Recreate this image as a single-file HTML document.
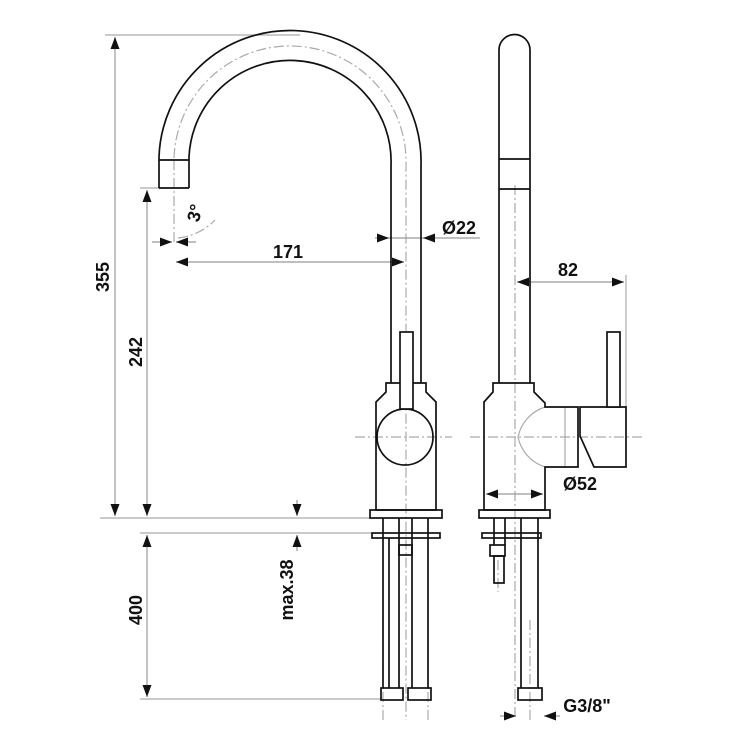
<!DOCTYPE html>
<html><head><style>body{margin:0;background:#fff}svg{display:block}text{font-family:"Liberation Sans",sans-serif;font-weight:bold;fill:#111}</style></head><body>
<svg width="750" height="750" viewBox="0 0 750 750" xmlns="http://www.w3.org/2000/svg">
<defs>
<marker id="a" viewBox="0 0 12 9" refX="12" refY="4.5" markerWidth="13" markerHeight="9" orient="auto-start-reverse" markerUnits="userSpaceOnUse"><path d="M0,0L12,4.5L0,9z" fill="#111"/></marker>
</defs>
<g stroke="#aaa" stroke-width="1.2" fill="none" stroke-dasharray="10,3,2,3">
<path d="M174,158 A116,116 0 0 1 406,166 V720"/>
<line x1="174" y1="160" x2="174" y2="245"/>
<line x1="515" y1="185" x2="515" y2="720"/>
<line x1="355" y1="437" x2="452" y2="437"/>
<line x1="470" y1="437" x2="642" y2="437"/>
<line x1="383" y1="620" x2="383" y2="720"/><line x1="428" y1="620" x2="428" y2="720"/>
<line x1="530" y1="620" x2="530" y2="720"/><line x1="498" y1="560" x2="498" y2="592"/>
<path d="M178,238 A60,60 0 0 0 215,220"/>
</g>
<g stroke="#aaa" stroke-width="1.2" fill="none">
<line x1="105" y1="35" x2="300" y2="35"/>
<line x1="140" y1="188" x2="160" y2="188"/>
<line x1="100" y1="518" x2="370" y2="518"/>
<line x1="140" y1="533" x2="372" y2="533"/>
<line x1="140" y1="699" x2="382" y2="699"/>
<line x1="626" y1="275" x2="626" y2="440"/>
<line x1="545" y1="480" x2="545" y2="500"/><line x1="484" y1="480" x2="484" y2="500"/>
<path d="M545,407 A40,40 0 0 0 518,437 A40,40 0 0 0 545,467"/>
<line x1="565" y1="407" x2="565" y2="467"/>
</g>
<g stroke="#999" stroke-width="1.2" fill="none">
<line x1="115" y1="37" x2="115" y2="516" marker-start="url(#a)" marker-end="url(#a)"/>
<line x1="147" y1="190" x2="147" y2="516" marker-start="url(#a)" marker-end="url(#a)"/>
<line x1="147" y1="535" x2="147" y2="697" marker-start="url(#a)" marker-end="url(#a)"/>
<line x1="297" y1="500" x2="297" y2="516" marker-end="url(#a)"/>
<line x1="297" y1="551" x2="297" y2="535" marker-end="url(#a)"/>
<line x1="176" y1="262" x2="404" y2="262" marker-start="url(#a)" marker-end="url(#a)"/>
<line x1="375" y1="238" x2="389" y2="238" marker-end="url(#a)"/>
<line x1="480" y1="238" x2="423" y2="238" marker-end="url(#a)"/>
<line x1="389" y1="238" x2="423" y2="238"/>
<line x1="152" y1="242" x2="172" y2="242" marker-end="url(#a)"/>
<line x1="196" y1="242" x2="176" y2="242" marker-end="url(#a)"/>
<line x1="517" y1="282" x2="624" y2="282" marker-start="url(#a)" marker-end="url(#a)"/>
<line x1="486" y1="494" x2="543" y2="494" marker-start="url(#a)" marker-end="url(#a)"/>
<line x1="500" y1="716" x2="516" y2="716" marker-end="url(#a)"/>
<line x1="560" y1="716" x2="544" y2="716" marker-end="url(#a)"/>
</g>
<g stroke="#111" stroke-width="1.7" fill="none">
<path d="M159,188 V157 A131,131 0 0 1 421,166 V383"/>
<path d="M189,188 V157 A101,101 0 0 1 391,166 V383"/>
<line x1="159" y1="160" x2="189" y2="160"/><line x1="159" y1="188" x2="189" y2="188"/>
<path d="M386,383 H426 V392 L436,402 V510 H376 V402 L386,392 Z"/>
<circle cx="405" cy="437" r="28"/>
<rect x="400" y="332" width="13" height="77" fill="#fff"/>
<rect x="370" y="510" width="72" height="8"/>
<rect x="372" y="533" width="68" height="5"/>
<line x1="383" y1="518" x2="383" y2="688"/><line x1="389" y1="538" x2="389" y2="688"/>
<line x1="399" y1="518" x2="399" y2="688"/><line x1="412" y1="518" x2="412" y2="688"/>
<line x1="428" y1="518" x2="428" y2="688"/>
<rect x="399" y="545" width="13" height="10"/>
<rect x="381" y="688" width="22" height="12"/><rect x="408" y="688" width="23" height="12"/>
<path d="M499,383 V50 A15.5,15.5 0 0 1 530,50 V383"/>
<line x1="499" y1="159" x2="530" y2="159"/><line x1="499" y1="189" x2="530" y2="189"/>
<path d="M493,383 H534 V392 L545,403 V407 H578 V467 H545 V510 H484 V402 L493,392 Z"/>
<path d="M580,407 H626 V467 H594 L580,436 Z"/>
<rect x="607" y="332" width="13" height="75" fill="#fff"/>
<rect x="479" y="510" width="71" height="8"/>
<rect x="482" y="533" width="59" height="5"/>
<line x1="494" y1="518" x2="494" y2="545"/><line x1="505" y1="518" x2="505" y2="545"/>
<rect x="490" y="545" width="15" height="11"/>
<rect x="494" y="556" width="10" height="27"/>
<line x1="521" y1="518" x2="521" y2="688"/><line x1="538" y1="518" x2="538" y2="688"/>
<rect x="518" y="688" width="24" height="12"/>
</g>
<g font-size="18">
<text transform="translate(103,277) rotate(-90)" text-anchor="middle" dominant-baseline="central">355</text>
<text transform="translate(136,352) rotate(-90)" text-anchor="middle" dominant-baseline="central">242</text>
<text transform="translate(136,610) rotate(-90)" text-anchor="middle" dominant-baseline="central">400</text>
<text transform="translate(287,590) rotate(-90)" text-anchor="middle" dominant-baseline="central">max.38</text>
<text x="288" y="258" text-anchor="middle">171</text>
<text x="459" y="234" text-anchor="middle">Ø22</text>
<text x="568" y="276" text-anchor="middle">82</text>
<text x="580" y="490" text-anchor="middle">Ø52</text>
<text x="587" y="712" text-anchor="middle">G3/8"</text>
<text transform="translate(195,213) rotate(-75)" text-anchor="middle" dominant-baseline="central">3°</text>
</g>
</svg>
</body></html>
